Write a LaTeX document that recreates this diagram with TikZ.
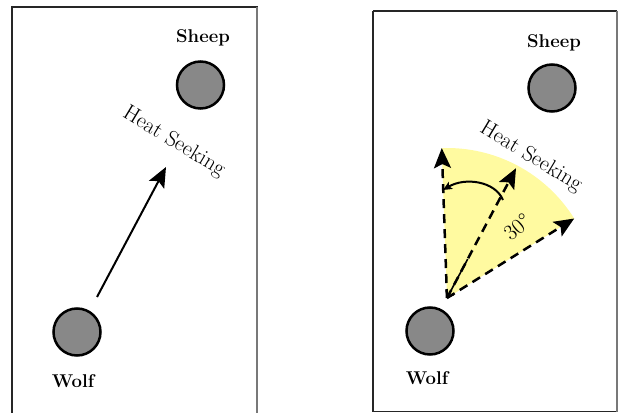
\documentclass[tikz,border=0pt]{standalone}
\usepackage{fontspec}
\usetikzlibrary{arrows.meta,calc}
\definecolor{wedgey}{RGB}{255,250,160}
\definecolor{animal}{RGB}{136,136,136}
\definecolor{framegray}{RGB}{120,120,120}
\begin{document}
\begin{tikzpicture}[x=1pt,y=1pt,
  animalnode/.style={circle,draw=black,line width=2.5pt,fill=animal,minimum size=47pt,inner sep=0pt},
  namelabel/.style={font=\fontsize{18.5}{21}\selectfont\bfseries,inner sep=0pt},
  seeklabel/.style={font=\fontsize{22}{25}\selectfont,inner sep=0pt},
  bigtip/.style={-{Stealth[length=20pt,width=17pt,inset=4pt]}},
  heading/.style={line width=2pt,bigtip},
  ray/.style={line width=2.5pt,dash pattern=on 9pt off 6pt,bigtip}]
\useasboundingbox (0,0) rectangle (619,413);
% left panel frame
\draw[line width=2pt,black!85] (12,406) -- (258,406);
\draw[line width=1.5pt,black!85] (12,407) -- (12,0);
\draw[line width=1.5pt,framegray] (257,406) -- (257,0);
% left panel
\node[animalnode] (sheepL) at (200.5,328) {};
\node[namelabel] (sheepLlab) at (203,375) {Sheep};
\node[animalnode] (wolfL) at (77,81) {};
\node[namelabel] (wolfLlab) at (73,32) {Wolf};
\coordinate (startL) at (97,116);
\coordinate (tipL) at (166,246);
\draw[heading] (startL) -- (tipL);
\node[seeklabel,rotate=-31] (seekL) at (174,271) {Heat Seeking};
% right panel frame
\draw[line width=1.5pt,black!85] (373,402) -- (617,402);
\draw[line width=1.5pt,black!85] (373,402) -- (373,1.5) -- (617,1.5);
\draw[line width=1.5pt,framegray] (617,402) -- (617,1.5);
% right panel
\coordinate (apex) at (447,115);
\fill[wedgey] (apex) -- ++(32:150) arc[start angle=32,end angle=92,radius=150] -- cycle;
\node[animalnode] (sheepR) at (552,325) {};
\node[namelabel] (sheepRlab) at (554,370) {Sheep};
\node[animalnode] (wolfR) at (430,82) {};
\node[namelabel] (wolfRlab) at (427,35) {Wolf};
\path (apex) ++(92:150) coordinate (lt);
\path (apex) ++(62:147) coordinate (mt);
\path (apex) ++(32:150) coordinate (rt);
\draw[ray] (apex) -- (lt);
\draw[ray] (apex) -- (rt);
\draw[ray] (apex) -- (mt);
\draw[line width=1.6pt,-{Straight Barb[length=5pt,width=9pt]}] ($(apex)!0.3!(mt)$) -- (apex);
\coordinate (turnA) at (503,213);
\coordinate (turnB) at (443,223);
\draw[line width=2pt,-{Stealth[length=9pt,width=8pt,inset=2pt]}] (turnA) .. controls (495,232) and (465,236) .. (turnB);
\node[seeklabel,rotate=40] (deg) at (517,186) {30°};
\node[seeklabel,rotate=-31] (seekR) at (531,256) {Heat Seeking};
\end{tikzpicture}
\end{document}
